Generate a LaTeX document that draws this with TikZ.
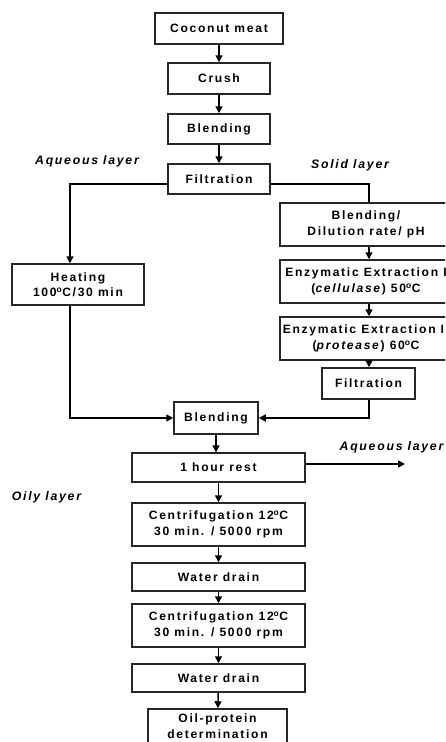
\documentclass[tikz,border=0pt]{standalone}
\usepackage{fontspec}
\setmainfont{Liberation Sans}[LetterSpace=14]
\usetikzlibrary{arrows.meta}
\tikzset{
  box/.style={draw=black!85, line width=1.5pt, inner sep=0pt, align=center,
    font=\bfseries\fontsize{12.1}{15.5}\selectfont},
  lbl/.style={inner sep=0pt, font=\bfseries\itshape\fontsize{12.3}{14}\selectfont},
  conn/.style={line width=1.5pt, -{Triangle[length=7pt,width=7pt]}},
  plain/.style={line width=1.5pt}
}
\begin{document}
\begin{tikzpicture}[x=1pt,y=-1pt]
\clip (0,0) rectangle (445,742);
\fill[white] (0,0) rectangle (445,742);
% main column
\node[box, minimum width=128pt, minimum height=31pt] (coco) at (219,28.5) {Coconut meat};
\node[box, minimum width=102pt, minimum height=31pt] (crush) at (219,78.5) {Crush};
\node[box, minimum width=102pt, minimum height=30pt] (bl1) at (219,129) {Blending};
\node[box, minimum width=102pt, minimum height=30pt] (fi1) at (219,179) {Filtration};
% left branch
\node[box, minimum width=132pt, minimum height=41pt] (heat) at (78,284.5) {Heating\\100\textsuperscript{o}C/30 min};
% right branch
\node[box, minimum width=172pt, minimum height=43pt] (bdil) at (366,224.5) {Blending/\\Dilution rate/ pH};
\node[box, minimum width=172pt, minimum height=43pt] (enz1) at (366,281.5) {Enzymatic Extraction I\\(\textit{cellulase}) 50\textsuperscript{o}C};
\node[box, minimum width=172pt, minimum height=43pt] (enz2) at (366,338.5) {Enzymatic Extraction II\\(\textit{protease}) 60\textsuperscript{o}C};
\node[box, minimum width=93pt, minimum height=31pt] (fi2) at (368.5,383.5) {Filtration};
% lower column
\node[box, minimum width=84pt, minimum height=32pt] (bl2) at (216,418) {Blending};
\node[box, minimum width=173pt, minimum height=29pt] (rest) at (218.5,467.5) {1 hour rest};
\node[box, minimum width=173pt, minimum height=43pt] (cen1) at (218.5,524.5) {Centrifugation 12\textsuperscript{o}C\\30 min. / 5000 rpm};
\node[box, minimum width=173pt, minimum height=28pt] (wd1) at (218.5,577) {Water drain};
\node[box, minimum width=173pt, minimum height=43pt] (cen2) at (218.5,625.5) {Centrifugation 12\textsuperscript{o}C\\30 min. / 5000 rpm};
\node[box, minimum width=173pt, minimum height=28pt] (wd2) at (218.5,678) {Water drain};
\node[box, minimum width=139pt, minimum height=34pt] (oil) at (217.5,726) {Oil-protein\\determination};
% labels
\node[lbl] (laq1) at (87,161) {Aqueous layer};
\node[lbl] (lsol) at (350,165) {Solid layer};
\node[lbl] (laq2) at (391.5,447) {Aqueous layer};
\node[lbl] (loil) at (46.5,497) {Oily layer};
% helper coordinates
\coordinate (jl) at (70,184);
\coordinate (jr) at (369,184);
\coordinate (jb) at (70,418);
\coordinate (jf) at (369,418);
\coordinate (aqend) at (405,464);
% connectors
\draw[conn] (coco) -- (crush);
\draw[conn] (crush) -- (bl1);
\draw[conn] (bl1) -- (fi1);
\draw[conn] (fi1.west |- jl) -- (jl) -- (jl |- heat.north);
\draw[plain] (fi1.east |- jr) -- (jr) -- (jr |- bdil.north);
\draw[conn] (bdil.south -| jr) -- (enz1.north -| jr);
\draw[conn] (enz1.south -| jr) -- (enz2.north -| jr);
\draw[conn] (enz2.south -| jr) -- (fi2.north -| jr);
\draw[conn] (heat.south -| jb) -- (jb) -- (bl2.west);
\draw[conn] (fi2.south -| jf) -- (jf) -- (bl2.east);
\draw[conn] (bl2.south) -- (bl2.south |- rest.north);
\draw[conn] (rest.east |- aqend) -- (aqend);
\draw[conn] (rest) -- (cen1);
\draw[conn] (cen1) -- (wd1);
\draw[conn] (wd1) -- (cen2);
\draw[conn] (cen2) -- (wd2);
\draw[conn] (wd2) -- (oil);
\end{tikzpicture}
\end{document}
